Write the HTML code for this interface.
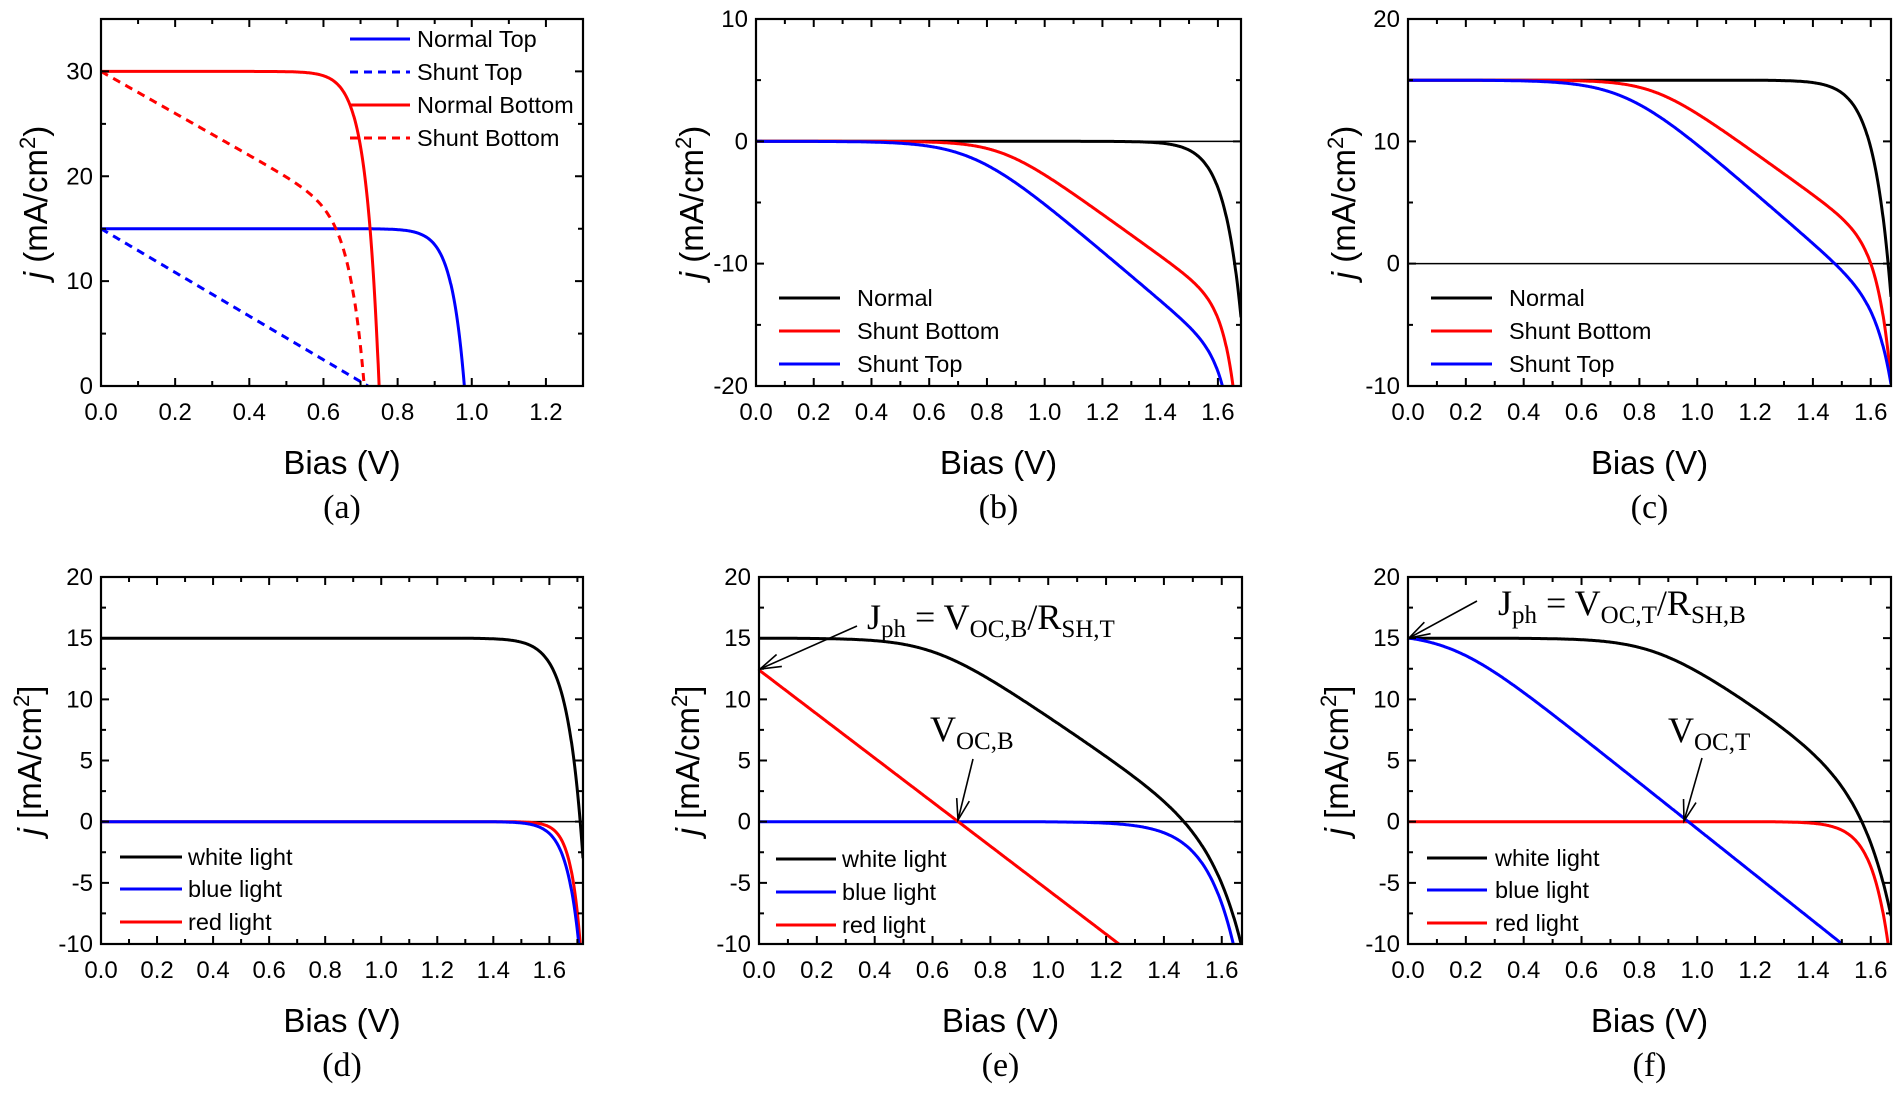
<!DOCTYPE html>
<html><head><meta charset="utf-8"><style>
html,body{margin:0;padding:0;background:#fff;}
svg{display:block;}
text{font-family:"Liberation Sans","DejaVu Sans",sans-serif;fill:#000;}
.s{font-family:"Liberation Serif",serif;}
</style></head><body>
<svg id="c" width="1900" height="1098" xmlns="http://www.w3.org/2000/svg"></svg>
<script>
const svg=document.getElementById('c');let out='';
function sp(x,w){return w*Math.log(1+Math.exp(x/w));}
const E=Math.exp;
const P=[
{id:'a',L:101,T:19,W:482,H:367,xmax:1.3,ymin:0,ymax:35,ymaj:10,ymin2:5,yt:'j (mA/cm',yb:')',lab:'(a)',
 curves:[
 ['#00f','',v=>15*(1-E((v-0.98)/0.035))],
 ['#00f','8,6',v=>v<=0.72?15-15/0.72*v:null],
 ['#f00','',v=>30*(1-E((v-0.75)/0.035))],
 ['#f00','8,6',v=>{let A=30-20*0.71;return 30-20*v-A*E((v-0.71)/0.04);}]
 ],
 leg:{x1:350,x2:410,tx:417,ys:[39,72,105,138],items:[['#00f','','Normal Top'],['#00f','8,6','Shunt Top'],['#f00','','Normal Bottom'],['#f00','8,6','Shunt Bottom']]}},
{id:'b',L:756,T:19,W:485,H:367,xmax:1.68,ymin:-20,ymax:10,ymaj:10,ymin2:5,yt:'j (mA/cm',yb:')',lab:'(b)',zero:1,
 curves:[
 ['#000','',v=>-17*E((v-1.69)/0.06)],
 ['#f00','',v=>-17*sp(v-0.85,0.08)-6*E((v-1.65)/0.04)],
 ['#00f','',v=>-20*sp(v-0.75,0.1)-3*E((v-1.62)/0.04)]
 ],
 leg:{x1:779,x2:840,tx:857,ys:[298,331,364],items:[['#000','','Normal'],['#f00','','Shunt Bottom'],['#00f','','Shunt Top']]}},
{id:'c',L:1408,T:19,W:483,H:367,xmax:1.67,ymin:-10,ymax:20,ymaj:10,ymin2:5,yt:'j (mA/cm',yb:')',lab:'(c)',zero:1,
 curves:[
 ['#000','',v=>15-15*E((v-1.66)/0.06)],
 ['#f00','',v=>15-17*sp(v-0.85,0.08)-3.5*E((v-1.62)/0.045)],
 ['#00f','',v=>15-20.5*sp(v-0.75,0.1)-6*E((v-1.67)/0.05)]
 ],
 leg:{x1:1431,x2:1492,tx:1509,ys:[298,331,364],items:[['#000','','Normal'],['#f00','','Shunt Bottom'],['#00f','','Shunt Top']]}},
{id:'d',L:101,T:577,W:482,H:367,xmax:1.72,ymin:-10,ymax:20,ymaj:5,ymin2:2.5,yt:'j [mA/cm',yb:']',lab:'(d)',zero:1,
 curves:[
 ['#000','',v=>15-15*E((v-1.71)/0.055)],
 ['#f00','',v=>-10*E((v-1.71)/0.035)],
 ['#00f','',v=>-10*E((v-1.705)/0.045)]
 ],
 leg:{x1:120,x2:182,tx:188,ys:[857,889,922],items:[['#000','','white light'],['#00f','','blue light'],['#f00','','red light']]}},
{id:'e',L:759,T:577,W:483,H:367,xmax:1.67,ymin:-10,ymax:20,ymaj:5,ymin2:2.5,yt:'j [mA/cm',yb:']',lab:'(e)',zero:1,
 curves:[
 ['#000','',v=>15-16*sp(v-0.6,0.1)-10*E((v-1.69)/0.1)],
 ['#00f','',v=>-10*E((v-1.64)/0.1)],
 ['#f00','',v=>12.4-18*v]
 ],
 leg:{x1:776,x2:836,tx:842,ys:[859,892,925],items:[['#000','','white light'],['#00f','','blue light'],['#f00','','red light']]}},
{id:'f',L:1408,T:577,W:483,H:367,xmax:1.67,ymin:-10,ymax:20,ymaj:5,ymin2:2.5,yt:'j [mA/cm',yb:']',lab:'(f)',zero:1,
 curves:[
 ['#000','',v=>15-16*sp(v-0.85,0.1)-11.7*E((v-1.69)/0.1)],
 ['#f00','',v=>-10*E((v-1.66)/0.06)],
 ['#00f','',v=>15.4-18.8*sp(v-0.15,0.1)]
 ],
 leg:{x1:1427,x2:1487,tx:1495,ys:[858,890,923],items:[['#000','','white light'],['#00f','','blue light'],['#f00','','red light']]}}
];
P.forEach(p=>{
 const X=v=>p.L+v/p.xmax*p.W, Y=j=>p.T+p.H-(j-p.ymin)/(p.ymax-p.ymin)*p.H;
 const B=p.T+p.H,R=p.L+p.W;
 out+=`<clipPath id="k${p.id}"><rect x="${p.L}" y="${p.T}" width="${p.W}" height="${p.H}"/></clipPath>`;
 if(p.zero) out+=`<line x1="${p.L}" x2="${R}" y1="${Y(0)}" y2="${Y(0)}" stroke="#000" stroke-width="1.5"/>`;
 p.curves.forEach(c=>{
  let d='';let st=false;
  for(let i=0;i<=800;i++){const v=p.xmax*i/800;let j=c[2](v);if(j===null){continue;}
   if(j<p.ymin-5)j=p.ymin-5; d+=(st?'L':'M')+X(v).toFixed(1)+','+Y(j).toFixed(1);st=true;}
  out+=`<path d="${d}" fill="none" stroke="${c[0]}" stroke-width="3" ${c[1]?`stroke-dasharray="${c[1]}"`:''} clip-path="url(#k${p.id})"/>`;
 });
 let t='';
 for(let k=0;k*0.1<=p.xmax+1e-9;k++){const x=X(k*0.1),len=k%2==0?8:5;
  t+=`M${x},${B}v${-len}M${x},${p.T}v${len}`;
  if(k%2==0) out+=`<text x="${x}" y="${B+34}" font-size="24" text-anchor="middle">${(k*0.1).toFixed(1)}</text>`;}
 for(let j=p.ymin;j<=p.ymax+1e-9;j+=p.ymin2){const y=Y(j);const maj=Math.abs(j/p.ymaj-Math.round(j/p.ymaj))<1e-6;const len=maj?8:5;
  t+=`M${p.L},${y}h${len}M${R},${y}h${-len}`;
  if(maj&&!(p.id=='a'&&j>30)) out+=`<text x="${p.L-8}" y="${y+8}" font-size="24" text-anchor="end">${j}</text>`;}
 out+=`<path d="${t}" stroke="#000" stroke-width="2"/>`;
 out+=`<rect x="${p.L}" y="${p.T}" width="${p.W}" height="${p.H}" fill="none" stroke="#000" stroke-width="2.2"/>`;
 const cx=p.L+p.W/2;
 out+=`<text x="${cx}" y="${B+88}" font-size="33" text-anchor="middle">Bias (V)</text>`;
 out+=`<text class="s" x="${cx}" y="${B+132}" font-size="34" text-anchor="middle">${p.lab}</text>`;
 const yc=p.T+p.H/2, tx=p.L-(p.id=='a'?54:p.id=='b'||p.id=='c'?53:60);
 out+=`<text transform="translate(${tx},${yc}) rotate(-90)" font-size="33" text-anchor="middle"><tspan font-style="italic">j</tspan> ${p.yt.slice(2)}<tspan font-size="22" dy="-12">2</tspan><tspan dy="12">${p.yb}</tspan></text>`;
 const g=p.leg;
 g.items.forEach((it,i)=>{out+=`<line x1="${g.x1}" x2="${g.x2}" y1="${g.ys[i]}" y2="${g.ys[i]}" stroke="${it[0]}" stroke-width="3" ${it[1]?`stroke-dasharray="${it[1]}"`:''}/>`;
  out+=`<text x="${g.tx}" y="${g.ys[i]+8}" font-size="23.5">${it[2]}</text>`;});
});
function arrow(x1,y1,x2,y2){const a=Math.atan2(y2-y1,x2-x1),l=22,w=0.3;
 return `<line x1="${x1}" y1="${y1}" x2="${x2}" y2="${y2}" stroke="#000" stroke-width="1.6"/><path d="M${x2-l*Math.cos(a-w)},${y2-l*Math.sin(a-w)}L${x2},${y2}L${x2-l*Math.cos(a+w)},${y2-l*Math.sin(a+w)}" fill="none" stroke="#000" stroke-width="1.6"/>`;}
out+=arrow(857,626,760,669);
out+=`<text class="s" x="867" y="629" font-size="36">J<tspan font-size="25" dy="8">ph</tspan><tspan dy="-8"> = V</tspan><tspan font-size="25" dy="8">OC,B</tspan><tspan dy="-8">/R</tspan><tspan font-size="25" dy="8">SH,T</tspan></text>`;
out+=arrow(973,759,958,820);
out+=`<text class="s" x="930" y="741" font-size="36">V<tspan font-size="25" dy="8">OC,B</tspan></text>`;
out+=arrow(1477,601,1409,638);
out+=`<text class="s" x="1498" y="615" font-size="36">J<tspan font-size="25" dy="8">ph</tspan><tspan dy="-8"> = V</tspan><tspan font-size="25" dy="8">OC,T</tspan><tspan dy="-8">/R</tspan><tspan font-size="25" dy="8">SH,B</tspan></text>`;
out+=arrow(1702,758,1684,821);
out+=`<text class="s" x="1668" y="742" font-size="36">V<tspan font-size="25" dy="8">OC,T</tspan></text>`;
svg.innerHTML=out;
</script>
</body></html>
